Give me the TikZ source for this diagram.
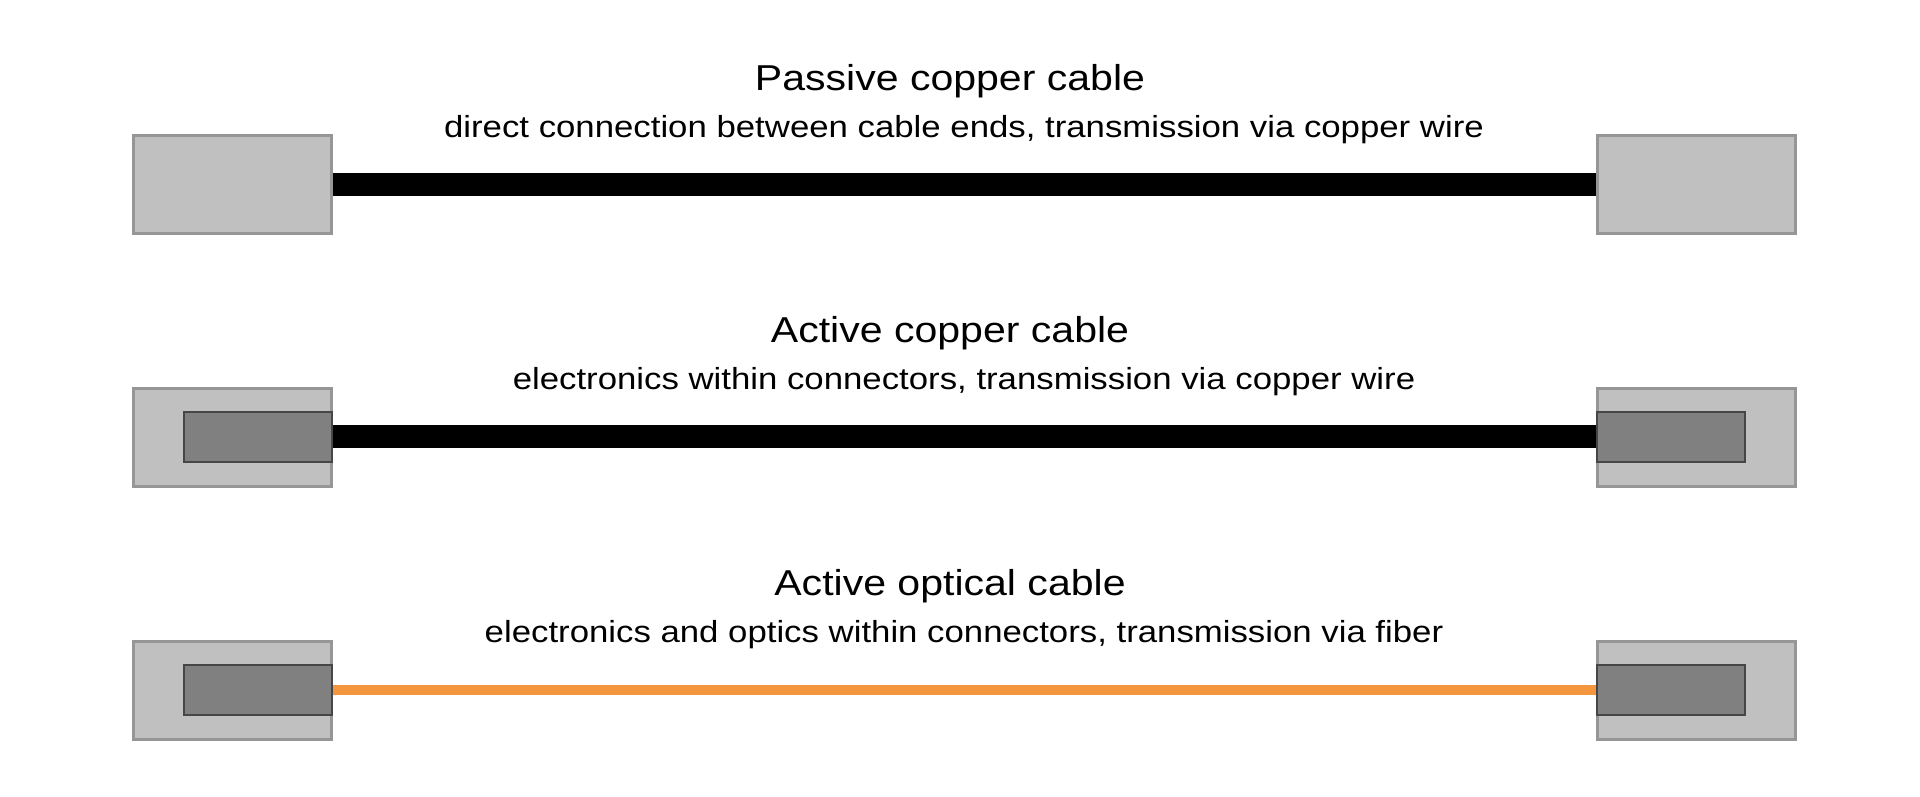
\documentclass[tikz,border=0pt]{standalone}
\usepackage{fontspec}
\setmainfont{Liberation Sans}[FakeStretch=1.14]
\definecolor{boxfill}{RGB}{192,192,192}
\definecolor{boxline}{RGB}{150,150,150}
\definecolor{innerfill}{RGB}{128,128,128}
\definecolor{innerline}{RGB}{70,70,70}
\definecolor{fiber}{RGB}{243,150,62}
\tikzset{
  outerbox/.style={draw=boxline, fill=boxfill, line width=3pt, rectangle, inner sep=0pt, minimum width=198pt, minimum height=98pt},
  innerbox/.style={draw=innerline, fill=innerfill, line width=2pt, rectangle, inner sep=0pt, minimum width=148pt, minimum height=50pt},
  titletext/.style={font=\fontsize{36}{40}\selectfont, anchor=base, inner sep=0pt},
  subtext/.style={font=\fontsize{30.5}{34}\selectfont, anchor=base, inner sep=0pt},
  coppercable/.style={line width=23pt, black},
  fibercable/.style={line width=10pt, fiber}
}
\begin{document}
\begin{tikzpicture}[x=1pt,y=-1pt]
\useasboundingbox (0,0) rectangle (1920,796);
\fill[white] (0,0) rectangle (1920,796);
% Row 1
\node[titletext] (t1) at (950,90) {Passive copper cable};
\node[subtext] (s1) at (964,137) {direct connection between cable ends, transmission via copper wire};
\node[outerbox] (L1) at (232,184.5) {};
\node[outerbox] (R1) at (1696.5,184.5) {};
\draw[coppercable] (L1.east) -- (R1.west);
% Row 2
\node[titletext] (t2) at (950,342) {Active copper cable};
\node[subtext] (s2) at (964,389) {electronics within connectors, transmission via copper wire};
\node[outerbox] (L2) at (232,437) {};
\node[outerbox] (R2) at (1696.5,437) {};
\node[innerbox] (LI2) at (257.5,436.5) {};
\node[innerbox] (RI2) at (1670.5,436.5) {};
\draw[coppercable] (LI2.east) -- (RI2.west);
% Row 3
\node[titletext] (t3) at (950,595) {Active optical cable};
\node[subtext] (s3) at (964,642) {electronics and optics within connectors, transmission via fiber};
\node[outerbox] (L3) at (232,690.5) {};
\node[outerbox] (R3) at (1696.5,690.5) {};
\node[innerbox] (LI3) at (257.5,689.5) {};
\node[innerbox] (RI3) at (1670.5,689.5) {};
\draw[fibercable] (LI3.east) -- (RI3.west);
\end{tikzpicture}
\end{document}
